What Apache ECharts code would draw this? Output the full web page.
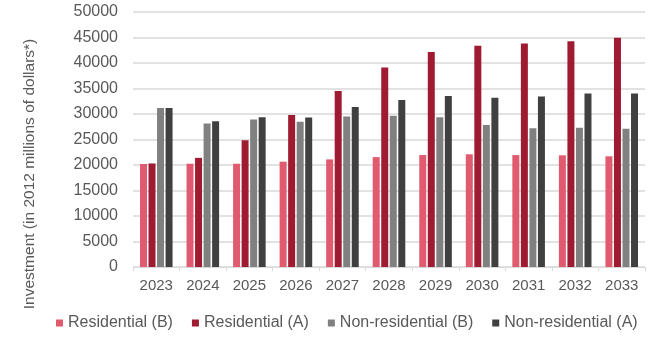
<!DOCTYPE html>
<html>
<head>
<meta charset="utf-8">
<style>
  html, body { margin: 0; padding: 0; background: #fff; }
  #chart { width: 648px; height: 337px; }
</style>
<script src="https://cdn.jsdelivr.net/npm/echarts@6/dist/echarts.min.js"></script>
</head>
<body>
<div id="chart"></div>
<script>
// Annual investment, 2023-2033, in 2012 millions of dollars
const years = ['2023', '2024', '2025', '2026', '2027', '2028', '2029', '2030', '2031', '2032', '2033'];
const residentialB    = [20200, 20250, 20250, 20650, 21100, 21550, 21950, 22100, 21950, 21900, 21700];
const residentialA    = [20300, 21400, 24850, 29800, 34500, 39100, 42150, 43400, 43800, 44250, 44950];
const nonResidentialB = [31200, 28150, 28900, 28500, 29500, 29650, 29350, 27850, 27200, 27300, 27100];
const nonResidentialA = [31200, 28600, 29350, 29300, 31350, 32750, 33550, 33200, 33450, 34000, 34000];
const yTicks = { min: 0, max: 50000, interval: 5000 };
const yTitle = 'Investment (in 2012 millions of dollars*)';

const font = '"Liberation Sans", Arial, sans-serif';
const textColor = '#595959';

function barSeries(name, data, color) {
  return {
    name: name,
    type: 'bar',
    data: data,
    barGap: '22%',
    barCategoryGap: '30%',
    itemStyle: { color: color },
    emphasis: { disabled: true }
  };
}

const chart = echarts.init(document.getElementById('chart'), null, { renderer: 'canvas' });
chart.setOption({
  animation: false,
  textStyle: { fontFamily: font },
  grid: { left: 133, right: 3, top: 12, bottom: 70, containLabel: false },
  legend: {
    top: 315,
    left: 56,
    right: 0,
    padding: 0,
    itemWidth: 7,
    itemHeight: 7,
    itemGap: 19,
    icon: 'rect',
    textStyle: { fontSize: 16, color: textColor, fontFamily: font },
    data: ['Residential (B)', 'Residential (A)', 'Non-residential (B)', 'Non-residential (A)']
  },
  // rotated axis title, centred a little below the plot middle
  graphic: [{
    type: 'text',
    x: 30,
    y: 174,
    rotation: Math.PI / 2,
    style: {
      text: yTitle,
      fontSize: 15.5,
      fontFamily: font,
      fill: textColor,
      align: 'center',
      verticalAlign: 'middle'
    }
  }],
  xAxis: {
    type: 'category',
    data: years,
    axisLine: { lineStyle: { color: '#d9d9d9', width: 1 } },
    axisTick: { show: true, length: 4, lineStyle: { color: '#d9d9d9' } },
    axisLabel: { fontSize: 15, color: textColor, margin: 11, fontFamily: font }
  },
  yAxis: {
    type: 'value',
    min: yTicks.min,
    max: yTicks.max,
    interval: yTicks.interval,
    axisLine: { show: false },
    axisTick: { show: false },
    axisLabel: {
      fontSize: 16,
      color: textColor,
      margin: 15,
      fontFamily: font,
      formatter: function (v) { return String(v); }
    },
    splitLine: { lineStyle: { color: '#d9d9d9', width: 1.5 } }
  },
  series: [
    barSeries('Residential (B)', residentialB, '#e05b70'),
    barSeries('Residential (A)', residentialA, '#9e1b32'),
    barSeries('Non-residential (B)', nonResidentialB, '#808080'),
    barSeries('Non-residential (A)', nonResidentialA, '#404040')
  ]
});
</script>
</body>
</html>
